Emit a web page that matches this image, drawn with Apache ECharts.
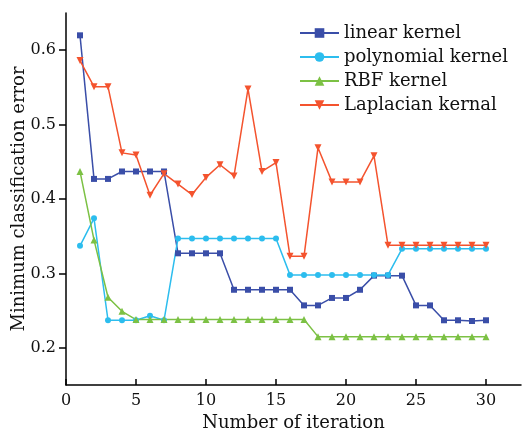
<!DOCTYPE html>
<html>
<head>
<meta charset="utf-8">
<script src="https://cdn.jsdelivr.net/npm/echarts@6/dist/echarts.min.js"></script>
<style>
  html, body { margin: 0; padding: 0; background: #fff; }
  #chart { width: 530px; height: 431px; }
</style>
</head>
<body>
<div id="chart"></div>
<script>
  var iterations = [1,2,3,4,5,6,7,8,9,10,11,12,13,14,15,16,17,18,19,20,21,22,23,24,25,26,27,28,29,30];
  var linearKernel = [0.62,0.427,0.427,0.437,0.437,0.437,0.437,0.327,0.327,0.327,0.327,0.278,0.278,0.278,0.278,0.278,0.257,0.257,0.267,0.267,0.278,0.297,0.297,0.297,0.257,0.257,0.237,0.237,0.236,0.237];
  var polyKernel = [0.337,0.374,0.237,0.237,0.237,0.243,0.237,0.347,0.347,0.347,0.347,0.347,0.347,0.347,0.347,0.298,0.298,0.298,0.298,0.298,0.298,0.298,0.298,0.333,0.333,0.333,0.333,0.333,0.333,0.333];
  var rbfKernel = [0.437,0.345,0.268,0.249,0.238,0.238,0.238,0.238,0.238,0.238,0.238,0.238,0.238,0.238,0.238,0.238,0.238,0.215,0.215,0.215,0.215,0.215,0.215,0.215,0.215,0.215,0.215,0.215,0.215,0.215];
  var lapKernel = [0.586,0.551,0.551,0.462,0.459,0.405,0.434,0.420,0.406,0.429,0.446,0.431,0.548,0.437,0.449,0.323,0.323,0.469,0.423,0.423,0.423,0.458,0.338,0.338,0.338,0.338,0.338,0.338,0.338,0.338];

  var xTicks = [0,5,10,15,20,25,30];
  var yTicks = [0.2,0.3,0.4,0.5,0.6];
  var seriesNames = ['linear kernel','polynomial kernel','RBF kernel','Laplacian kernal'];

  var font = 'DejaVu Serif';
  var downTri = 'path://M0,0 L10,0 L5,9 Z';

  function pairs(vals) {
    return iterations.map(function (it, i) { return [it, vals[i]]; });
  }

  function mkSeries(name, vals, color, symbol, size) {
    return {
      name: name, type: 'line', data: pairs(vals),
      symbol: symbol, symbolSize: size,
      lineStyle: { color: color, width: 1.5 },
      itemStyle: { color: color },
      animation: false
    };
  }

  var chart = echarts.init(document.getElementById('chart'));
  chart.setOption({
    backgroundColor: '#fff',
    grid: { left: 66, top: 13, right: 9, bottom: 46, outerBoundsMode: 'none', containLabel: false },
    legend: {
      orient: 'vertical', left: 299, top: 24, padding: 0,
      itemWidth: 39, itemHeight: 12, itemGap: 6,
      textStyle: { fontFamily: font, fontSize: 18, color: '#111', lineHeight: 18 },
      data: seriesNames
    },
    xAxis: {
      type: 'value', min: 0, max: 32.5,
      name: 'Number of iteration', nameLocation: 'middle', nameGap: 29, nameMoveOverlap: false,
      nameTextStyle: { fontFamily: font, fontSize: 18, color: '#111' },
      axisLine: { lineStyle: { color: '#000', width: 1.5 } },
      axisTick: { inside: true, length: 6, customValues: xTicks, lineStyle: { color: '#000', width: 1.5 } },
      axisLabel: { customValues: xTicks, fontFamily: font, fontSize: 16, color: '#111', margin: 8 },
      splitLine: { show: false }
    },
    yAxis: {
      type: 'value', min: 0.15, max: 0.65,
      name: 'Minimum classification error', nameLocation: 'middle', nameGap: 38, nameMoveOverlap: false,
      nameTextStyle: { fontFamily: font, fontSize: 18, color: '#111' },
      axisLine: { show: true, lineStyle: { color: '#000', width: 1.5 } },
      axisTick: { show: true, inside: false, length: 7, customValues: yTicks, lineStyle: { color: '#000', width: 1.5 } },
      axisLabel: {
        customValues: yTicks, fontFamily: font, fontSize: 16, color: '#111', margin: 10,
        formatter: function (v) { return v.toFixed(1); }
      },
      splitLine: { show: false }
    },
    series: [
      mkSeries(seriesNames[0], linearKernel, '#3a4ea8', 'rect', 6),
      mkSeries(seriesNames[1], polyKernel, '#2cbdee', 'circle', 6),
      mkSeries(seriesNames[2], rbfKernel, '#7cc144', 'triangle', 7),
      mkSeries(seriesNames[3], lapKernel, '#f4532e', downTri, 7)
    ]
  });
</script>
</body>
</html>
